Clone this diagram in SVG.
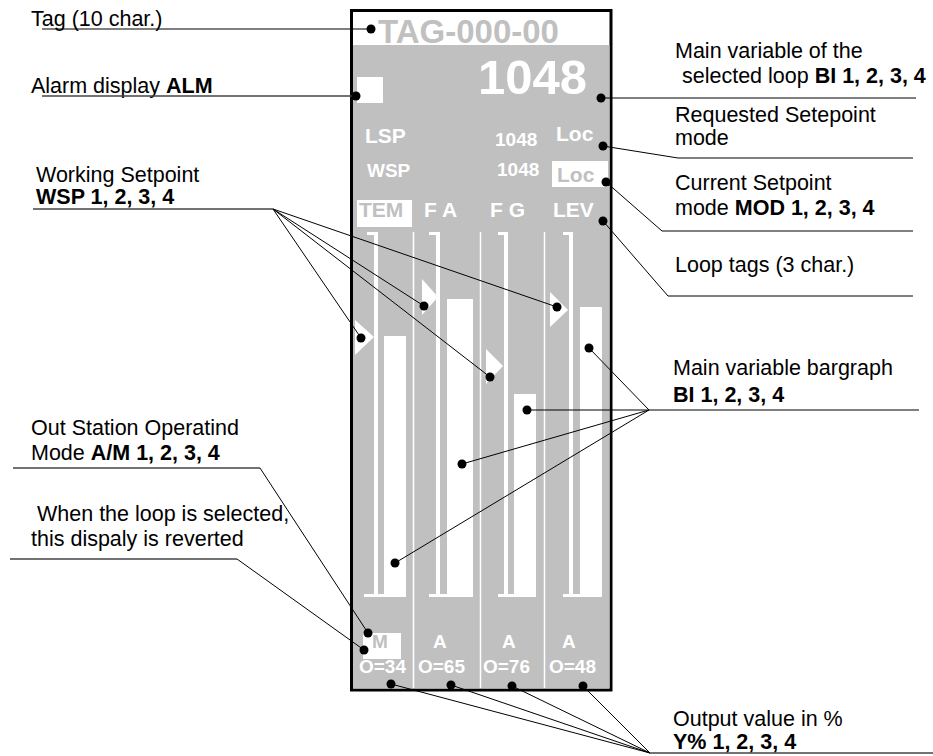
<svg xmlns="http://www.w3.org/2000/svg" width="933" height="756" viewBox="0 0 933 756">
<style>
text{font-family:"Liberation Sans",Arial,sans-serif}
.lbl{font-size:21.5px;fill:#000}
.b{font-weight:bold}
.w{fill:#fff;font-weight:bold}
.g{fill:#c0c0c0;font-weight:bold}
.ld{fill:none;stroke:#000;stroke-width:1}
.ul{fill:none;stroke:#444;stroke-width:1.3}
.dot{fill:#000}
.br{fill:#fff}
</style>
<rect width="933" height="756" fill="#fff"/>
<g id="panel">
<rect x="351.5" y="10.5" width="259.5" height="679.5" fill="#fff" stroke="#000" stroke-width="3"/>
<rect x="353" y="45" width="256.5" height="643.5" fill="#c0c0c0"/>
<text class="g" x="378" y="43" font-size="33">TAG-000-00</text>
<text class="w" x="478" y="94" font-size="49">1048</text>
<rect x="357" y="77" width="26" height="26" fill="#fff"/>
<text class="w" x="365" y="143" font-size="21">LSP</text>
<text class="w" x="495" y="146" font-size="19">1048</text>
<text class="w" x="556" y="141" font-size="21">Loc</text>
<text class="w" x="367" y="177" font-size="19">WSP</text>
<text class="w" x="497" y="176" font-size="19">1048</text>
<rect x="552" y="161" width="56" height="26" fill="#fff"/>
<text class="g" x="557" y="182" font-size="21">Loc</text>
<rect x="357" y="200" width="55" height="27" fill="#fff"/>
<text class="g" x="359" y="217" font-size="21">TEM</text>
<text class="w" x="424" y="217" font-size="21">F A</text>
<text class="w" x="490" y="217" font-size="21">F G</text>
<text class="w" x="553" y="217" font-size="21">LEV</text>
<g stroke="#fff" stroke-width="1.5">
<line x1="413.5" y1="232" x2="413.5" y2="688"/>
<line x1="480.5" y1="232" x2="480.5" y2="688"/>
<line x1="544.5" y1="232" x2="544.5" y2="688"/>
</g>
<g id="col1">
<rect class="br" x="367" y="232" width="11" height="3"/>
<rect class="br" x="374" y="232" width="4" height="364"/>
<rect class="br" x="364" y="594" width="42" height="3"/>
<rect class="br" x="384" y="336" width="22" height="260"/>
<polygon class="br" points="355,320 374,337 355,355"/>
</g>
<g id="col2">
<rect class="br" x="429" y="232" width="11" height="3"/>
<rect class="br" x="436" y="232" width="4" height="364"/>
<rect class="br" x="429" y="594" width="44" height="3"/>
<rect class="br" x="447" y="299" width="26" height="297"/>
<polygon class="br" points="422,279 438,297 422,315"/>
</g>
<g id="col3">
<rect class="br" x="498" y="232" width="10" height="3"/>
<rect class="br" x="504" y="232" width="4" height="364"/>
<rect class="br" x="498" y="594" width="38" height="3"/>
<rect class="br" x="514" y="394" width="22" height="202"/>
<polygon class="br" points="486,349 503,366 486,384"/>
</g>
<g id="col4">
<rect class="br" x="563" y="232" width="10" height="3"/>
<rect class="br" x="569" y="232" width="4" height="364"/>
<rect class="br" x="563" y="594" width="39" height="3"/>
<rect class="br" x="580" y="307" width="22" height="289"/>
<polygon class="br" points="550,292 568,310 550,327"/>
</g>
<rect x="363" y="633" width="38" height="26" fill="#fff"/>
<text class="g" x="372" y="648" font-size="19">M</text>
<text class="w" x="433" y="648" font-size="19">A</text>
<text class="w" x="502" y="648" font-size="19">A</text>
<text class="w" x="562" y="648" font-size="19">A</text>
<text class="w" x="359" y="673" font-size="19">O=34</text>
<text class="w" x="418" y="673" font-size="19">O=65</text>
<text class="w" x="483" y="673" font-size="19">O=76</text>
<text class="w" x="549" y="673" font-size="19">O=48</text>
</g>
<g id="label-tag"><text class="lbl" x="31" y="26">Tag (10 char.)</text></g>
<g id="label-alm"><text class="lbl" x="31" y="93">Alarm display <tspan class="b">ALM</tspan></text></g>
<g id="label-wsp"><text class="lbl" x="36" y="182">Working Setpoint</text><text class="lbl b" x="36" y="204">WSP 1, 2, 3, 4</text></g>
<g id="label-am"><text class="lbl" x="31" y="435">Out Station Operatind</text><text class="lbl" x="31" y="460">Mode <tspan class="b">A/M 1, 2, 3, 4</tspan></text></g>
<g id="label-rev"><text class="lbl" x="37" y="521">When the loop is selected,</text><text class="lbl" x="31" y="546">this dispaly is reverted</text></g>
<g id="label-main"><text class="lbl" x="675" y="58">Main variable of the</text><text class="lbl" x="682" y="83">selected loop <tspan class="b">BI 1, 2, 3, 4</tspan></text></g>
<g id="label-req"><text class="lbl" x="675" y="122">Requested Setepoint</text><text class="lbl" x="675" y="145">mode</text></g>
<g id="label-cur"><text class="lbl" x="675" y="190">Current Setpoint</text><text class="lbl" x="675" y="215">mode <tspan class="b">MOD 1, 2, 3, 4</tspan></text></g>
<g id="label-loop"><text class="lbl" x="675" y="272">Loop tags (3 char.)</text></g>
<g id="label-bar"><text class="lbl" x="673" y="375">Main variable bargraph</text><text class="lbl b" x="673" y="402">BI 1, 2, 3, 4</text></g>
<g id="label-out"><text class="lbl" x="673" y="726">Output value in %</text><text class="lbl b" x="673" y="749">Y% 1, 2, 3, 4</text></g>
<g id="connectors">
<polyline class="ld" points="42,29 371,29"/>
<polyline class="ul" points="42,96 356,96"/>
<polyline class="ul" points="33,209 273,209"/>
<polyline class="ld" points="273,209 361,338"/>
<polyline class="ld" points="273,209 424,306"/>
<polyline class="ld" points="273,209 490,377"/>
<polyline class="ld" points="273,209 557,307"/>
<polyline class="ul" points="13,468 260,468"/>
<polyline class="ld" points="260,468 368,633"/>
<polyline class="ul" points="10,559 237,559"/>
<polyline class="ld" points="237,559 364,650"/>
<polyline class="ld" points="601,98 916,98"/>
<polyline class="ld" points="603,146 678,158 913,158"/>
<polyline class="ld" points="606,182 662,231 913,231"/>
<polyline class="ld" points="603,221 668,296 913,296"/>
<polyline class="ld" points="527,410 919,410"/>
<polyline class="ld" points="649,410 589,348"/>
<polyline class="ld" points="649,410 462,464"/>
<polyline class="ld" points="649,410 395,563"/>
<polyline class="ul" points="650,753 933,753"/>
<polyline class="ld" points="650,753 391,684"/>
<polyline class="ld" points="650,753 451,685"/>
<polyline class="ld" points="650,753 512,686"/>
<polyline class="ld" points="650,753 583,686"/>
<g class="dot">
<circle cx="371" cy="29" r="4.5"/>
<circle cx="356" cy="96" r="4.5"/>
<circle cx="361" cy="338" r="4.5"/>
<circle cx="424" cy="306" r="4.5"/>
<circle cx="490" cy="377" r="4.5"/>
<circle cx="557" cy="307" r="4.5"/>
<circle cx="368" cy="633" r="4.5"/>
<circle cx="364" cy="650" r="4.5"/>
<circle cx="601" cy="98" r="4.5"/>
<circle cx="603" cy="146" r="4.5"/>
<circle cx="606" cy="182" r="4.5"/>
<circle cx="603" cy="221" r="4.5"/>
<circle cx="527" cy="410" r="4.5"/>
<circle cx="589" cy="348" r="4.5"/>
<circle cx="462" cy="464" r="4.5"/>
<circle cx="395" cy="563" r="4.5"/>
<circle cx="391" cy="684" r="4.5"/>
<circle cx="451" cy="685" r="4.5"/>
<circle cx="512" cy="686" r="4.5"/>
<circle cx="583" cy="686" r="4.5"/>
</g>
</g>
</svg>
